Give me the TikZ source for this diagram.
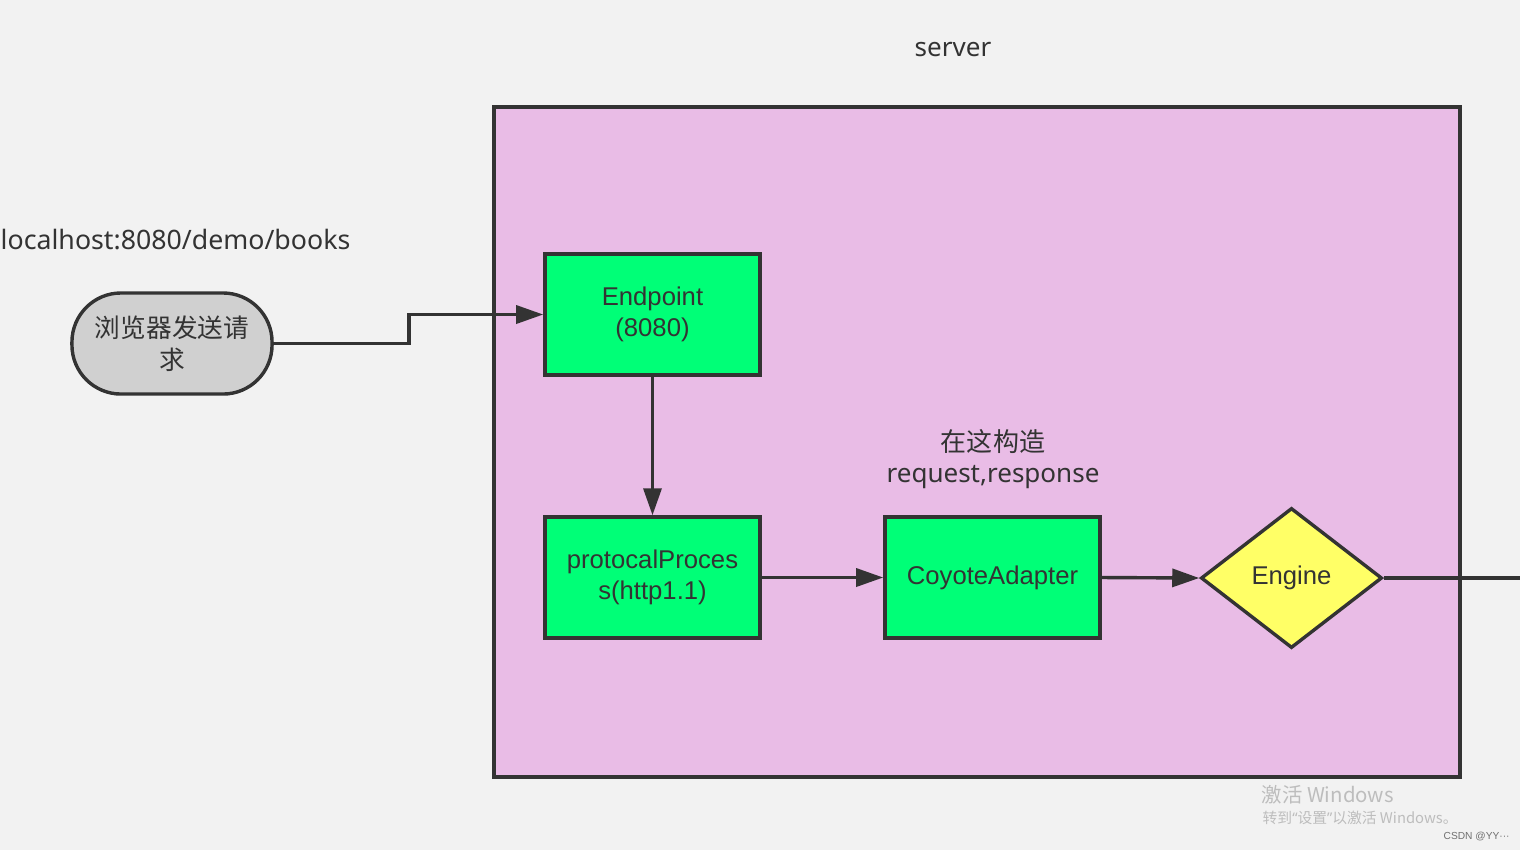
\documentclass[tikz,border=0pt]{standalone}
\usepackage{fontspec}
\setmainfont{Noto Sans}
\newfontfamily\cjk{Noto Sans CJK SC}
\newfontfamily\arialf{Liberation Sans}
\usetikzlibrary{shapes.geometric,arrows.meta}
\definecolor{bgc}{HTML}{F2F2F2}
\definecolor{srv}{HTML}{E9BCE6}
\definecolor{grn}{HTML}{00FF77}
\definecolor{gry}{HTML}{D0D0D0}
\definecolor{ylw}{HTML}{FFFF66}
\definecolor{ink}{HTML}{333333}
\definecolor{wm}{HTML}{BDBDBD}
\tikzset{
  every node/.style={text=ink},
  edge/.style={draw=ink,line width=0.034cm},
  arr/.style={edge,-{Triangle[length=2.7mm,width=1.8mm]}},
  gbox/.style={draw=ink,line width=0.034cm,fill=grn,minimum width=2.15cm,minimum height=1.21cm,align=center,inner sep=0pt,font=\arialf\fontsize{7.3}{8.9}\selectfont},
  lbl/.style={align=center,inner sep=0pt,font=\fontsize{7.4}{9}\selectfont},
}
\begin{document}
\begin{tikzpicture}[x=0.01cm,y=-0.01cm]
\fill[bgc] (0,0) rectangle (1520,850);
\useasboundingbox (0,0) rectangle (1520,850);
\draw[ink,fill=srv,line width=0.034cm] (494,107) rectangle (1460,777);
\node[lbl] (srvlbl) at (953,50) {server};
\node[lbl,anchor=west,font=\fontsize{7.6}{9}\selectfont] (url) at (0,240) {localhost:8080/demo/books};
\node[draw=ink,line width=0.034cm,fill=gry,rounded corners=0.49cm,minimum width=2.0cm,minimum height=1.01cm,align=center,inner sep=0pt,font=\cjk\fontsize{7.3}{9.2}\selectfont] (b) at (172,343.5) {浏览器发送请\\求};
\node[gbox] (e) at (652.5,314.5) {Endpoint\\(8080)};
\node[gbox] (p) at (652.5,577.5) {protocalProces\\s(http1.1)};
\node[gbox] (c) at (992.5,577.5) {CoyoteAdapter};
\node[draw=ink,line width=0.034cm,fill=ylw,diamond,aspect=1.29,minimum width=1.81cm,minimum height=1.40cm,inner sep=0pt,font=\arialf\fontsize{7.3}{8.9}\selectfont] (g) at (1291.5,578) {Engine};
\node[lbl] (note) at (993,459) {{\cjk 在这构造}\\request,response};
\coordinate (kink) at (409,0);
\coordinate (out) at (1520,578);
\draw[arr] (b.east) -- (b.east -| kink) |- (e.west);
\draw[arr] (e.south) -- (p.north);
\draw[arr] (p.east) -- (c.west);
\draw[arr] (c.east) -- (g.west);
\draw[edge] (g.east) -- (out);
\node[anchor=west,inner sep=0pt,text=wm,font=\cjk\fontsize{5.8}{7}\selectfont] (wm1) at (1261,795) {激活 Windows};
\node[anchor=west,inner sep=0pt,text=wm,font=\cjk\fontsize{4.2}{5}\selectfont] (wm2) at (1262,818) {转到{\fontspec{Noto Sans}“}设置{\fontspec{Noto Sans}”}以激活 Windows。};
\node[anchor=west,inner sep=0pt,text=ink!70,font=\arialf\fontsize{2.9}{3.5}\selectfont] (wm3) at (1443,836) {CSDN @YY···};
\end{tikzpicture}
\end{document}
